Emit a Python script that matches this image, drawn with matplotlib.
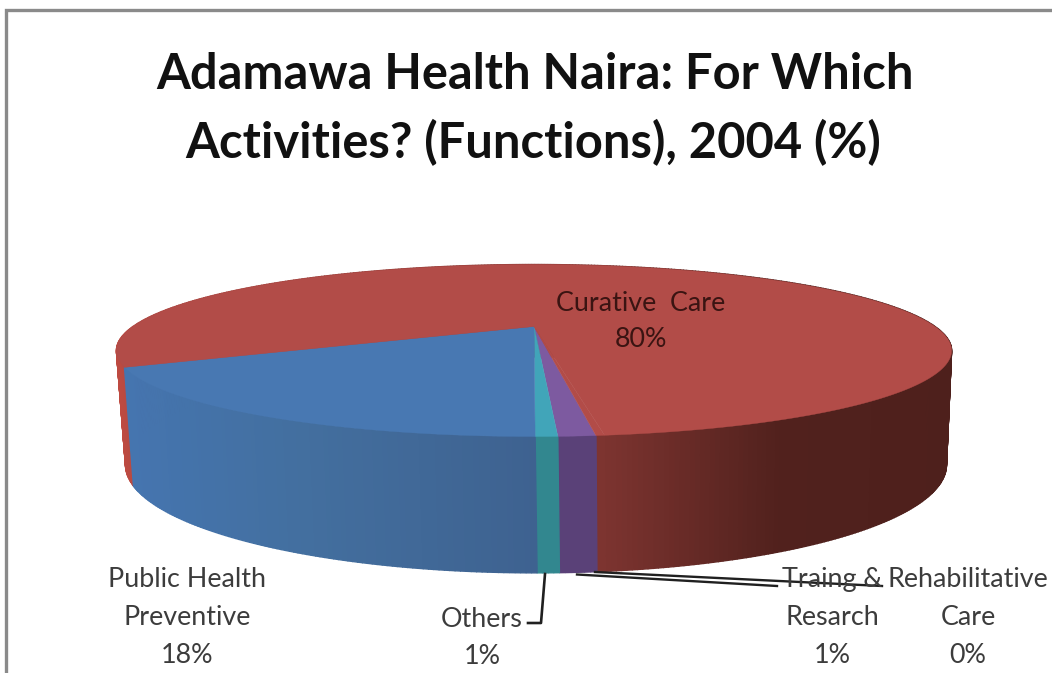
import numpy as np
import matplotlib
matplotlib.use("Agg")
import matplotlib.pyplot as plt
from matplotlib.colors import to_rgb

# Data, clockwise from the front of the pie
slices = ["Traing &\nResarch", "Others", "Public Health\nPreventive", "Curative  Care", "Rehabilitative\nCare"]
values = [1.1, 0.65, 17.6, 80.4, 0.25]
top_colors = ["#7d5aa0", "#41a5b9", "#4878b2", "#b24c48", "#b24c48"]
side_stops_x = [[500, 620], [500, 620], [120, 300, 535], [115, 135, 600, 780, 960], [500, 620]]
side_stops_c = [["#5a4178", "#5a4178"], ["#32878f", "#32878f"],
                ["#4575b0", "#436f9f", "#3e6290"],
                ["#c04a40", "#b04a44", "#7d3430", "#51211d", "#4e201c"],
                ["#7d3430", "#7d3430"]]

XC, YC = 534.0, 326.5
A, B, P = 401.0, 79.3, 0.279
HALF_DEPTH_Y, DEPTH_SHIFT, DEPTH_SCALE, SHRINK = 351.0, 114.5, 0.256, 0.983


def top_pt(t):
    w = 1 - P * np.cos(t)
    return XC - A * np.sin(t) / w, YC + B * np.cos(t) / w


def bottom_pt(t):
    x, y = top_pt(t)
    return XC + 2 + (x - XC) * SHRINK, y + DEPTH_SHIFT + (y - HALF_DEPTH_Y) * DEPTH_SCALE


fig = plt.figure(figsize=(10.52, 6.73), dpi=100, facecolor="white")
ax = fig.add_axes([0, 0, 1, 1])
ax.set_xlim(0, 1052)
ax.set_ylim(673, 0)
ax.axis("off")

# Frame
ax.plot([6, 6, 1052], [673, 10, 10], color="#8a8a8a", lw=2.4, solid_joinstyle="miter", zorder=1)

# Pie geometry from the values
shares = np.array(values) / sum(values) * 2 * np.pi
start = -(shares[0] + shares[1]) - 0.002
edges = start + np.concatenate([[0], np.cumsum(shares)])

# Side wall, shaded strip by strip, painted from back to front
strips = []
for i in range(len(values)):
    n = max(2, int(shares[i] / 0.01))
    ts = np.linspace(edges[i], edges[i + 1], n + 1)
    sx = side_stops_x[i]
    rgb = np.array([to_rgb(c) for c in side_stops_c[i]])
    for a, b in zip(ts[:-1], ts[1:]):
        x0, y0 = top_pt(a)
        x1, y1 = top_pt(b)
        x2, y2 = bottom_pt(b)
        x3, y3 = bottom_pt(a)
        col = [np.interp((x0 + x1) / 2, sx, rgb[:, k]) for k in range(3)]
        strips.append((np.cos((a + b) / 2), [x0, x1, x2, x3], [y0, y1, y2, y3], col))
strips.sort(key=lambda s: s[0])
for _, xs, ys, col in strips:
    ax.fill(xs, ys, color=col, lw=1.0, zorder=2)

# Top face
for i in range(len(values)):
    ts = np.linspace(edges[i], edges[i + 1], max(3, int(shares[i] / 0.01)))
    x, y = top_pt(ts)
    ax.fill(np.r_[XC, x], np.r_[YC, y], color=top_colors[i], lw=0.3, zorder=3)

# Leader lines
ax.plot([545, 541, 528], [574, 623, 623], color="#202020", lw=1.9, zorder=4)
ax.plot([577, 777], [574.5, 586], color="#202020", lw=1.7, zorder=4)
ax.plot([595, 882], [572, 586], color="#202020", lw=1.7, zorder=4)

# Text
FONT = "Lato"
ax.text(535, 89, "Adamawa Health Naira: For Which", ha="center", va="baseline",
        fontsize=35.2, fontweight="bold", family=FONT, color="#111111", zorder=5)
ax.text(533, 158, "Activities? (Functions), 2004 (%)", ha="center", va="baseline",
        fontsize=35.2, fontweight="bold", family=FONT, color="#111111", zorder=5)

label_pos = {"Traing &\nResarch": (832, 587), "Others": (482, 627),
             "Public Health\nPreventive": (187, 587), "Curative  Care": (641, 311),
             "Rehabilitative\nCare": (968, 587)}
label_col = {"Curative  Care": "#3a1412"}
STEP = 38
for name, v in zip(slices, values):
    lx, ly = label_pos[name]
    lines = name.split("\n") + [f"{round(v)}%"]
    if name.startswith("Curative"):
        step = 36
    elif name == "Others":
        step = 37
    else:
        step = STEP
    for j, s in enumerate(lines):
        ax.text(lx, ly + j * step, s, ha="center", va="baseline", fontsize=19.4,
                family=FONT, color=label_col.get(name, "#3c3c3c"), zorder=5)

fig.savefig("out.png", dpi=100, facecolor="white")
